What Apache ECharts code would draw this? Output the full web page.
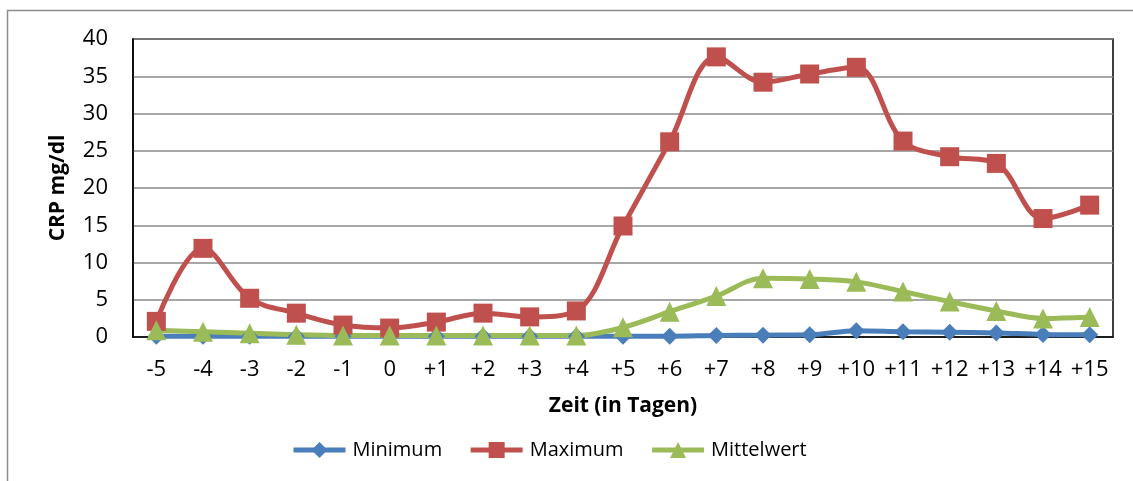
<!DOCTYPE html>
<html>
<head>
<meta charset="utf-8">
<script src="https://cdn.jsdelivr.net/npm/echarts@6/dist/echarts.min.js"></script>
<style>
  html, body { margin: 0; padding: 0; background: #fff; }
  #chart { width: 1133px; height: 481px; }
</style>
</head>
<body>
<div id="chart"></div>
<script>
// CRP-Verlauf um den Stichtag (Tag 0)
const days = ['-5','-4','-3','-2','-1','0','+1','+2','+3','+4','+5','+6','+7','+8','+9','+10','+11','+12','+13','+14','+15'];
const minimum = [0.1,0.1,0.1,0.1,0.1,0.1,0.1,0.1,0.1,0.1,0.1,0.1,0.2,0.25,0.3,0.85,0.7,0.65,0.55,0.35,0.3];
const maximum = [2.1,11.9,5.2,3.2,1.6,1.2,2.0,3.2,2.7,3.5,14.9,26.2,37.6,34.2,35.3,36.2,26.3,24.2,23.3,15.9,17.7];
const mittelwert = [0.9,0.7,0.5,0.3,0.2,0.2,0.2,0.2,0.2,0.2,1.3,3.4,5.5,7.9,7.8,7.4,6.1,4.75,3.5,2.5,2.7];
const yTicks = { min: 0, max: 40, interval: 5 };

const FONT = '"Open Sans", Lato, "Noto Sans", sans-serif';
const LINE_W = 5;
const chart = echarts.init(document.getElementById('chart'), null, { renderer: 'canvas' });

function lineSeries(name, data, color, symbol, size) {
  return {
    name, type: 'line', data,
    smooth: 0.35,
    symbol, symbolSize: size,
    lineStyle: { color: color, width: LINE_W, type: 'solid' },
    itemStyle: { color: color, borderWidth: 0 },
    emphasis: { disabled: true },
    z: 3
  };
}

chart.setOption({
  animation: false,
  backgroundColor: '#fff',
  textStyle: { fontFamily: FONT },
  graphic: [{
    type: 'rect',
    shape: { x: 7.5, y: 10.5, width: 1200, height: 600 },
    style: { fill: 'none', stroke: '#8c8c8c', lineWidth: 1.5 },
    silent: true, z: -10
  }],
  grid: {
    left: 133, right: 20, top: 39, bottom: 144,
    show: true, borderColor: '#000', borderWidth: 1.5, backgroundColor: 'transparent'
  },
  legend: {
    top: 435, left: 286,
    itemWidth: 52, itemHeight: 20, itemGap: 26,
    itemStyle: { borderWidth: 0 },
    lineStyle: { width: LINE_W },
    textStyle: { fontFamily: FONT, fontSize: 20, color: '#000', padding: [0, 0, 0, 2] },
    data: ['Minimum', 'Maximum', 'Mittelwert']
  },
  xAxis: {
    type: 'category', data: days, boundaryGap: true,
    name: 'Zeit (in Tagen)', nameLocation: 'middle', nameGap: 59,
    nameTextStyle: { fontFamily: FONT, fontSize: 21, fontWeight: 'bold', color: '#000' },
    axisLine: { show: true, lineStyle: { color: '#000', width: 1.5 } },
    axisTick: { show: false },
    axisLabel: { color: '#000', fontSize: 22, margin: 22, interval: 0, fontFamily: FONT }
  },
  yAxis: {
    type: 'value', min: yTicks.min, max: yTicks.max, interval: yTicks.interval,
    name: 'CRP mg/dl', nameLocation: 'middle', nameGap: 64, nameRotate: 90,
    nameTextStyle: { fontFamily: FONT, fontSize: 21, fontWeight: 'bold', color: '#000' },
    axisLine: { show: true, lineStyle: { color: '#000', width: 1.5 } },
    axisTick: { show: false },
    splitLine: { show: true, lineStyle: { color: '#8a8a8a', width: 1.5 } },
    axisLabel: { color: '#000', fontSize: 22, margin: 25, fontFamily: FONT }
  },
  series: [
    lineSeries('Minimum', minimum, '#4a7ebb', 'diamond', 17),
    lineSeries('Maximum', maximum, '#c0504d', 'rect', 19),
    lineSeries('Mittelwert', mittelwert, '#9bbb59', 'triangle', 20)
  ]
});
</script>
</body>
</html>
